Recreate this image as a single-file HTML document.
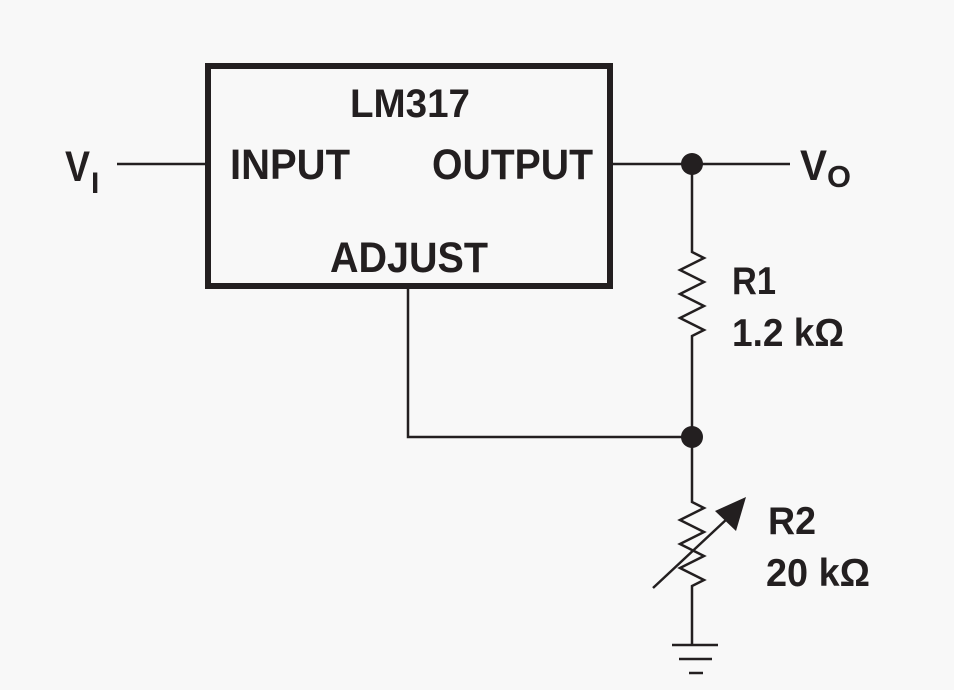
<!DOCTYPE html>
<html><head><meta charset="utf-8"><style>
html,body{margin:0;padding:0;background:#f8f8f8;}
svg{display:block;}
text{font-family:"Liberation Sans",sans-serif;font-weight:bold;fill:#231f20;}
</style></head><body>
<svg width="954" height="690" viewBox="0 0 954 690" xmlns="http://www.w3.org/2000/svg">
<rect width="954" height="690" fill="#f8f8f8"/>
<g stroke="#231f20" fill="none">
<rect x="208" y="66" width="402" height="220" stroke-width="6"/>
<line x1="117" y1="164" x2="208" y2="164" stroke-width="2.5"/>
<line x1="610" y1="164" x2="790" y2="164" stroke-width="2.5"/>
<polyline points="692,164 692,252 704,258 680,270 704,282 680,294 704,306 680,318 704,330 692,336 692,437" stroke-width="2.5"/>
<polyline points="408,286 408,437 692,437" stroke-width="2.5"/>
<polyline points="692,437 692,502 704,508 680,520 704,532 680,544 704,556 680,568 704,580 692,586 692,645" stroke-width="2.5"/>
<line x1="653" y1="588" x2="728" y2="518" stroke-width="2.5"/>
<line x1="672" y1="645" x2="718" y2="645" stroke-width="2.5"/>
<line x1="679" y1="659" x2="712" y2="659" stroke-width="2.5"/>
<line x1="689" y1="673" x2="703" y2="673" stroke-width="2.5"/>
</g>
<polygon points="746,497 736,531 715,511" fill="#231f20"/>
<circle cx="692" cy="164" r="11" fill="#231f20"/>
<circle cx="692" cy="437" r="11" fill="#231f20"/>
<text x="350" y="117" font-size="40" textLength="120" lengthAdjust="spacingAndGlyphs">LM317</text>
<text x="230" y="179" font-size="43" textLength="120" lengthAdjust="spacingAndGlyphs">INPUT</text>
<text x="432" y="179" font-size="43" textLength="161" lengthAdjust="spacingAndGlyphs">OUTPUT</text>
<text x="330" y="272" font-size="43" textLength="158" lengthAdjust="spacingAndGlyphs">ADJUST</text>
<text x="65" y="181" font-size="43" textLength="25" lengthAdjust="spacingAndGlyphs">V</text>
<text x="91" y="193" font-size="30">I</text>
<text x="800" y="180" font-size="43" textLength="27" lengthAdjust="spacingAndGlyphs">V</text>
<text x="827" y="187" font-size="31" textLength="24" lengthAdjust="spacingAndGlyphs">O</text>
<text x="732" y="294" font-size="39" textLength="44" lengthAdjust="spacingAndGlyphs">R1</text>
<text x="732" y="346" font-size="39" textLength="112" lengthAdjust="spacingAndGlyphs">1.2 kΩ</text>
<text x="768" y="534" font-size="39" textLength="48" lengthAdjust="spacingAndGlyphs">R2</text>
<text x="766" y="586" font-size="39" textLength="104" lengthAdjust="spacingAndGlyphs">20 kΩ</text>
</svg>
</body></html>
